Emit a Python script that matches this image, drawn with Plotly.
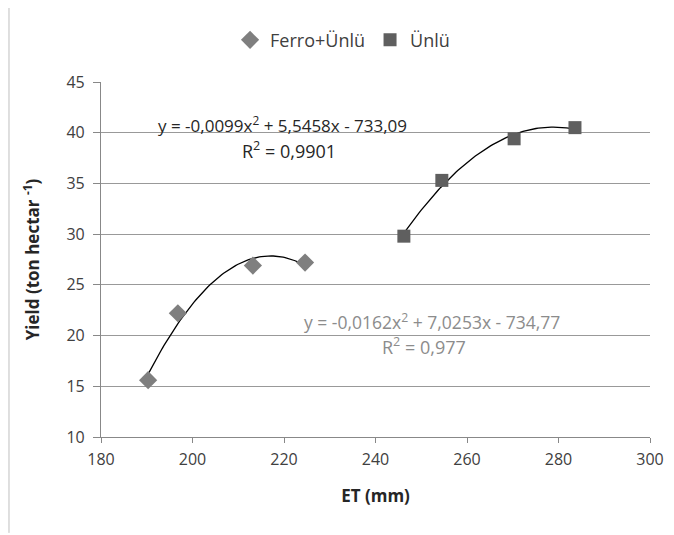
import numpy as np
import plotly.graph_objects as go

ferro_x = [190.3, 196.8, 213.2, 224.6]
ferro_y = [15.6, 22.2, 26.9, 27.2]
unlu_x = [246.2, 254.5, 270.3, 283.6]
unlu_y = [29.8, 35.3, 39.4, 40.5]

eq_unlu = "y = -0,0099x<sup>2</sup> + 5,5458x - 733,09"
r2_unlu = "R<sup>2</sup> = 0,9901"
eq_ferro = "y = -0,0162x<sup>2</sup> + 7,0253x - 734,77"
r2_ferro = "R<sup>2</sup> = 0,977"

FONT = "Open Sans"

def trend(xs, ys):
    c = np.polyfit(xs, ys, 2)
    xx = np.linspace(min(xs), max(xs), 80)
    return xx, np.polyval(c, xx)

fig = go.Figure()
tx, ty = trend(ferro_x, ferro_y)
fig.add_trace(go.Scatter(x=tx, y=ty, mode="lines", line=dict(color="black", width=1.3),
                         showlegend=False, hoverinfo="skip"))
tx, ty = trend(unlu_x, unlu_y)
fig.add_trace(go.Scatter(x=tx, y=ty, mode="lines", line=dict(color="black", width=1.3),
                         showlegend=False, hoverinfo="skip"))
fig.add_trace(go.Scatter(x=ferro_x, y=ferro_y, mode="markers", name="Ferro+Ünlü",
                         marker=dict(symbol="diamond", size=14, color="#7f7f7f")))
fig.add_trace(go.Scatter(x=unlu_x, y=unlu_y, mode="markers", name="Ünlü",
                         marker=dict(symbol="square", size=13, color="#5f5f5f")))

fig.add_annotation(x=219.7, y=40.8, text=eq_unlu, showarrow=False,
                   font=dict(family=FONT, size=17, color="#262626"))
fig.add_annotation(x=221.0, y=38.25, text=r2_unlu, showarrow=False,
                   font=dict(family=FONT, size=18, color="#262626"))
fig.add_annotation(x=252.4, y=21.4, text=eq_ferro, showarrow=False,
                   font=dict(family=FONT, size=17.5, color="#8c8c8c"))
fig.add_annotation(x=250.6, y=19.0, text=r2_ferro, showarrow=False,
                   font=dict(family=FONT, size=18, color="#8c8c8c"))

fig.add_shape(type="line", xref="paper", yref="paper", x0=-0.1676, x1=-0.1676, y0=-0.27, y1=1.24,
              line=dict(color="#bfbfbf", width=1))

fig.update_layout(
    width=674, height=535,
    margin=dict(l=93, r=32, t=74, b=106),
    paper_bgcolor="white", plot_bgcolor="white",
    font=dict(family=FONT, size=16, color="#404040"),
    legend=dict(orientation="h", x=0.44, xanchor="center", y=1.118, yanchor="middle",
                font=dict(family=FONT, size=18, color="#404040"), itemwidth=30,
                bgcolor="rgba(0,0,0,0)"),
    xaxis=dict(range=[180, 300], dtick=20, showgrid=False, zeroline=False,
               showline=True, linecolor="#888888", linewidth=1.2,
               ticks="outside", ticklen=5, tickcolor="#888888",
               ticklabelstandoff=3,
               tickfont=dict(family=FONT, size=16, color="#404040"),
               title=dict(text="<b>ET (mm)</b>", font=dict(family=FONT, size=17, color="#262626"), standoff=20)),
    yaxis=dict(range=[10, 45], dtick=5, showgrid=True, gridcolor="#999999", gridwidth=1,
               zeroline=False, showline=True, linecolor="#888888", linewidth=1.2,
               ticks="outside", ticklen=7, tickcolor="#888888",
               ticklabelstandoff=5,
               tickfont=dict(family=FONT, size=16, color="#404040"),
               title=dict(text="<b>Yield (ton hectar <sup>-1</sup>)</b>", font=dict(family=FONT, size=17, color="#262626"), standoff=22)),
)

fig.write_html("out.html")
